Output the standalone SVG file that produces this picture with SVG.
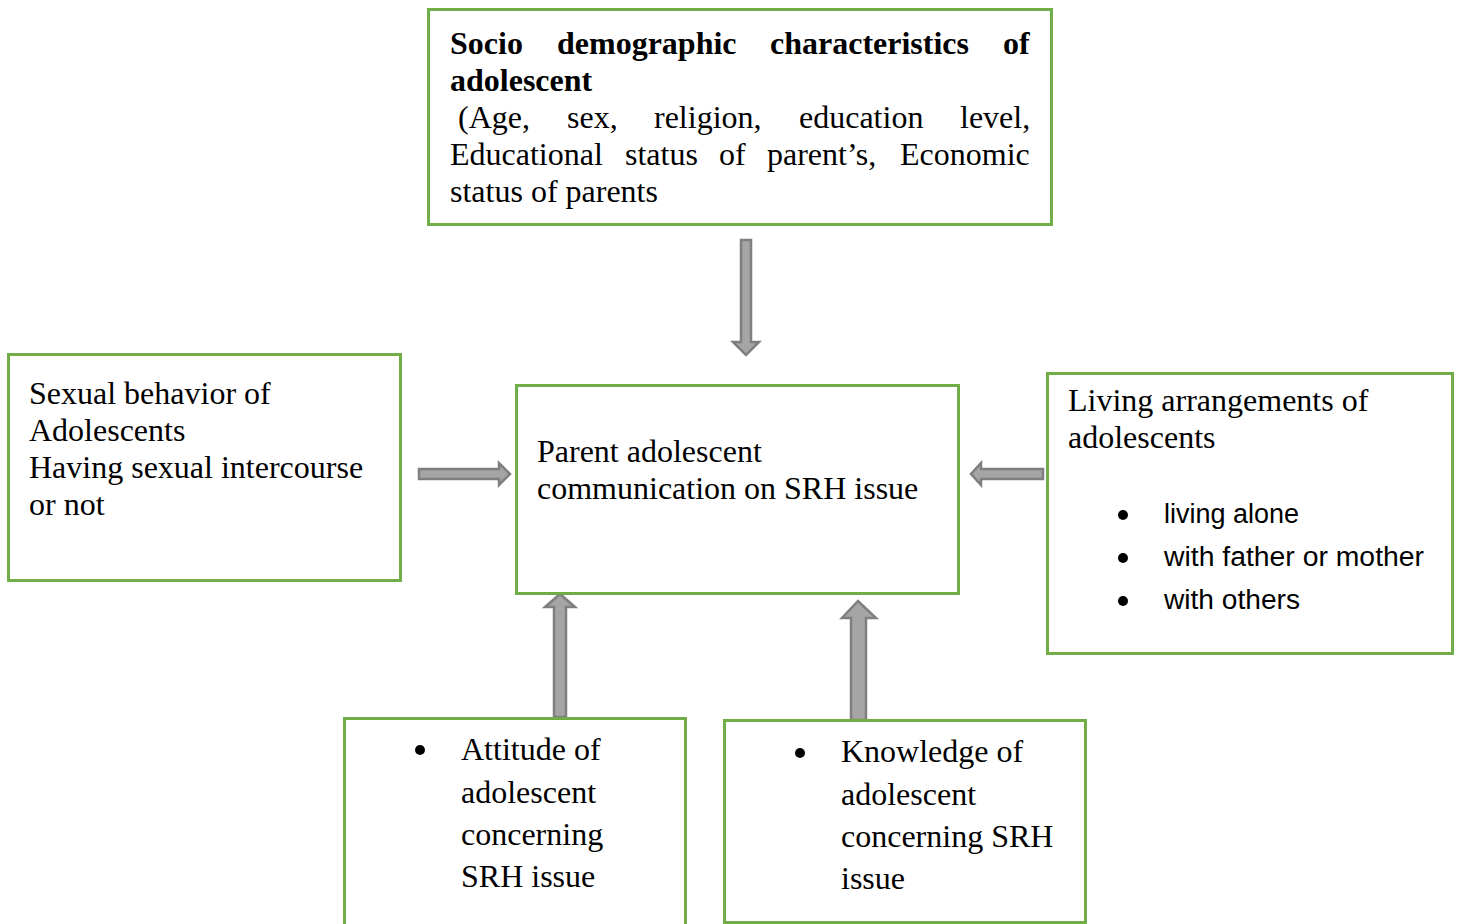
<svg xmlns="http://www.w3.org/2000/svg" width="1460" height="924" viewBox="0 0 1460 924">
<style>
.box{fill:#fff;stroke:#70AD47;stroke-width:3}
.t{font-family:"Liberation Serif","Times New Roman",serif;font-size:32px;fill:#000}
.b{font-weight:bold}
.s{font-family:"Liberation Sans",Arial,sans-serif;font-size:27px;fill:#000}
.arr{fill:#A5A5A5;stroke:#7F7F7F;stroke-width:2.5;stroke-linejoin:miter}
.dot{fill:#000}
</style>
<rect width="1460" height="924" fill="#fff"/>
<g id="connectors">
<polygon class="arr" points="741,240 751,240 751,342 759,342 746,355 733,342 741,342"/>
<polygon class="arr" points="419,469 499,469 499,463 510,474 499,485 499,479 419,479"/>
<polygon class="arr" points="1043,469 981,469 981,463 971,474 981,485 981,479 1043,479"/>
<polygon class="arr" points="554,717 554,607 545,607 560,594 575,607 566,607 566,717"/>
<polygon class="arr" points="851,720 851,618 842,618 858,601 876,618 866,618 866,720"/>
</g>
<g id="node-sociodemographic">
<rect class="box" x="428.5" y="9.5" width="623" height="215"/>
<text class="t b" y="54"><tspan x="450">Socio</tspan><tspan x="557">demographic</tspan><tspan x="770">characteristics</tspan><tspan x="1003">of</tspan></text>
<text class="t b" x="450" y="91">adolescent</text>
<text class="t" y="128"><tspan x="458">(Age,</tspan><tspan x="567">sex,</tspan><tspan x="654">religion,</tspan><tspan x="799">education</tspan><tspan x="960">level,</tspan></text>
<text class="t" y="165"><tspan x="450">Educational</tspan><tspan x="625">status</tspan><tspan x="719">of</tspan><tspan x="767">parent’s,</tspan><tspan x="900">Economic</tspan></text>
<text class="t" x="450" y="202">status of parents</text>
</g>
<g id="node-sexual-behavior">
<rect class="box" x="8.5" y="354.5" width="392" height="226"/>
<text class="t" x="29" y="404">Sexual behavior of</text>
<text class="t" x="29" y="441">Adolescents</text>
<text class="t" x="29" y="478">Having sexual intercourse</text>
<text class="t" x="29" y="515">or not</text>
</g>
<g id="node-communication">
<rect class="box" x="516.5" y="385.5" width="442" height="208"/>
<text class="t" x="537" y="462">Parent adolescent</text>
<text class="t" x="537" y="499">communication on SRH issue</text>
</g>
<g id="node-living">
<rect class="box" x="1047.5" y="373.5" width="405" height="280"/>
<text class="t" x="1068" y="411">Living arrangements of</text>
<text class="t" x="1068" y="448">adolescents</text>
<circle class="dot" cx="1123" cy="515" r="5"/>
<circle class="dot" cx="1123" cy="558" r="5"/>
<circle class="dot" cx="1123" cy="601" r="5"/>
<text class="s" x="1164" y="523" textLength="135" lengthAdjust="spacingAndGlyphs">living alone</text>
<text class="s" x="1164" y="566" textLength="260" lengthAdjust="spacingAndGlyphs">with father or mother</text>
<text class="s" x="1164" y="609" textLength="136" lengthAdjust="spacingAndGlyphs">with others</text>
</g>
<g id="node-attitude">
<rect class="box" x="344.5" y="718.5" width="341" height="220"/>
<circle class="dot" cx="420" cy="750" r="5"/>
<text class="t" x="461" y="760">Attitude of</text>
<text class="t" x="461" y="803">adolescent</text>
<text class="t" x="461" y="845">concerning</text>
<text class="t" x="461" y="887">SRH issue</text>
</g>
<g id="node-knowledge">
<rect class="box" x="724.5" y="720.5" width="361" height="202"/>
<circle class="dot" cx="800" cy="753" r="5"/>
<text class="t" x="841" y="762">Knowledge of</text>
<text class="t" x="841" y="805">adolescent</text>
<text class="t" x="841" y="847">concerning SRH</text>
<text class="t" x="841" y="889">issue</text>
</g>
</svg>
